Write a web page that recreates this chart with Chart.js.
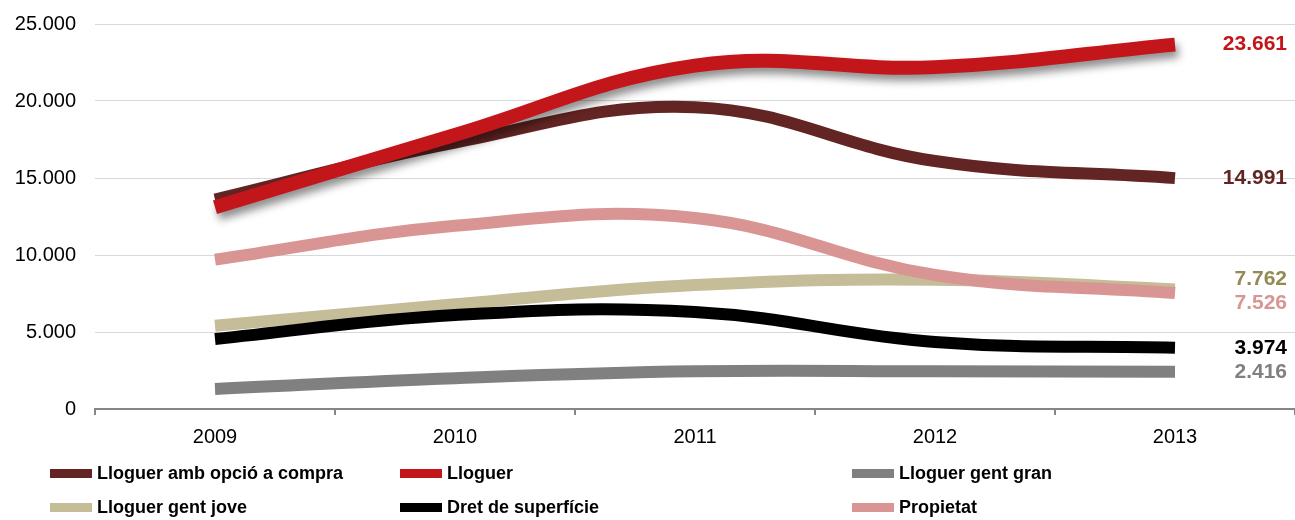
<!DOCTYPE html>
<html>
<head>
<meta charset="utf-8">
<script src="https://cdn.jsdelivr.net/npm/chart.js@4.4.1/dist/chart.umd.min.js"></script>
<style>
  html, body { margin: 0; padding: 0; background: #fff; }
  #wrap { position: relative; width: 1295px; height: 520px; font-family: "Liberation Sans", Arial, sans-serif; }
  #chart { position: absolute; left: 0; top: 0; }
  .lg { position: absolute; display: flex; align-items: center; font-weight: bold; font-size: 18px; color: #000; white-space: nowrap; }
  .lg i { display: inline-block; width: 42px; height: 9px; margin-right: 5px; }
</style>
</head>
<body>
<div id="wrap">
  <canvas id="chart" width="1295" height="520"></canvas>
  <div id="legend"></div>
</div>
<script>
// ── Data ──
const years = ['2009', '2010', '2011', '2012', '2013'];
const seriesNames = ['Lloguer amb opció a compra', 'Lloguer', 'Lloguer gent gran', 'Lloguer gent jove', 'Dret de superfície', 'Propietat'];
const opcioCompra  = [13600, 17300, 19600, 16100, 14991];
const lloguer      = [13100, 17800, 22300, 22200, 23661];
const gentGran     = [1300, 2000, 2450, 2450, 2416];
const gentJove     = [5400, 6800, 8050, 8400, 7762];
const dretSuperf   = [4550, 6100, 6300, 4350, 3974];
const propietat    = [9700, 11900, 12400, 8700, 7526];
const yTicks = [0, 5000, 10000, 15000, 20000, 25000];

const lineColors  = ['#632523', '#c3161b', '#808080', '#c4bd97', '#000000', '#d99594'];
const labelColors = ['#632523', '#c3161b', '#808080', '#948a54', '#000000', '#d99594'];
const allSeries = [opcioCompra, lloguer, gentGran, gentJove, dretSuperf, propietat];

const fmt = v => String(v).replace(/\B(?=(\d{3})+(?!\d))/g, '.');

// shadow under the red "Lloguer" line
const shadowPlugin = {
  id: 'redShadow',
  beforeDatasetDraw(chart, args) {
    if (args.index !== 1) return;
    const c = chart.ctx;
    c.save();
    c.shadowColor = 'rgba(0,0,0,0.45)';
    c.shadowBlur = 9;
    c.shadowOffsetX = 3;
    c.shadowOffsetY = 6;
  },
  afterDatasetDraw(chart, args) {
    if (args.index === 1) chart.ctx.restore();
  }
};

// last-value labels at the right, pushed apart when they collide
const endLabels = {
  id: 'endLabels',
  afterDatasetsDraw(chart) {
    const c = chart.ctx, y = chart.scales.y;
    const items = chart.data.datasets.map((d, i) => ({
      text: fmt(d.data[d.data.length - 1]),
      color: labelColors[i],
      y: y.getPixelForValue(d.data[d.data.length - 1])
    })).sort((a, b) => a.y - b.y);
    const gap = 24;
    for (let k = 1; k < items.length; k++) {
      const over = items[k - 1].y + gap - items[k].y;
      if (over > 0) { items[k - 1].y -= over / 2; items[k].y += over / 2; }
    }
    c.save();
    c.font = 'bold 21px "Liberation Sans", Arial, sans-serif';
    c.textAlign = 'right';
    c.textBaseline = 'middle';
    items.forEach(it => { c.fillStyle = it.color; c.fillText(it.text, 1287, it.y); });
    c.restore();
  }
};

const datasets = allSeries.map((data, i) => ({
  label: seriesNames[i],
  data,
  borderColor: lineColors[i],
  backgroundColor: lineColors[i],
  borderWidth: i === 1 ? 14 : 12,
  borderCapStyle: 'butt',
  pointRadius: 0,
  tension: 0.4,
  fill: false,
  order: allSeries.length - i
}));

new Chart(document.getElementById('chart'), {
  type: 'line',
  data: { labels: years, datasets },
  plugins: [shadowPlugin, endLabels],
  options: {
    responsive: false,
    animation: false,
    layout: { padding: { top: 24, right: 0, bottom: 61, left: 0 } },
    plugins: { legend: { display: false }, tooltip: { enabled: false } },
    scales: {
      x: {
        offset: true,
        grid: { offset: true, drawOnChartArea: false, color: '#868686', tickLength: 6, lineWidth: 2 },
        border: { color: '#868686', width: 2 },
        ticks: { color: '#000', padding: 10, font: { family: '"Liberation Sans", Arial, sans-serif', size: 20 } }
      },
      y: {
        min: 0, max: 25000,
        afterBuildTicks: s => { s.ticks = yTicks.map(v => ({ value: v })); },
        afterFit: s => { s.width = 95; s.paddingTop = 0; s.paddingBottom = 0; },
        grid: { color: '#d9d9d9', drawTicks: false },
        border: { display: false },
        ticks: { color: '#000', padding: 19, callback: v => fmt(v), font: { family: '"Liberation Sans", Arial, sans-serif', size: 20 } }
      }
    }
  }
});

// ── Legend (3 columns x 2 rows) ──
const legendCols = [50, 400, 852];
const legendRows = [473, 507];
const legendEl = document.getElementById('legend');
seriesNames.forEach((name, i) => {
  const el = document.createElement('div');
  el.className = 'lg';
  el.style.left = legendCols[i % 3] + 'px';
  el.style.top = (legendRows[Math.floor(i / 3)] - 11) + 'px';
  el.style.height = '22px';
  el.innerHTML = `<i style="background:${lineColors[i]}"></i>${name}`;
  legendEl.appendChild(el);
});
</script>
</body>
</html>
